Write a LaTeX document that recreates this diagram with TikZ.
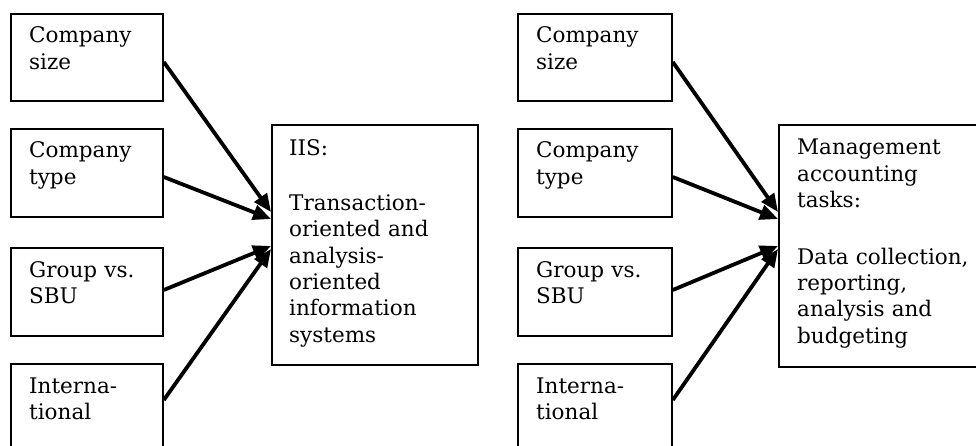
\documentclass[tikz,border=0pt]{standalone}
\usepackage{fontspec}
\setmainfont{DejaVu Serif}
\usetikzlibrary{arrows.meta,calc}
\begin{document}
\begin{tikzpicture}[x=1pt,y=-1pt,
  box/.style={draw=black,line width=1.8pt,rectangle,inner sep=0pt,anchor=north west},
  lbl/.style={anchor=base west,inner sep=0pt,align=left,text width=200pt,
    font={\fontsize{21.5}{26.4}\selectfont}},
  arr/.style={line width=3.8pt,-{Triangle[length=18pt,width=15pt]}}]
\useasboundingbox (0,0) rectangle (976,446);
\clip (0,0) rectangle (976,446);
% left group
\node[box,minimum width=152pt,minimum height=87pt] (a1) at (10,13) {};
\node[box,minimum width=152pt,minimum height=88pt] (a2) at (10,128) {};
\node[box,minimum width=152pt,minimum height=88pt] (a3) at (10,247) {};
\node[box,minimum width=152pt,minimum height=110pt] (a4) at (10,363) {};
\node[box,minimum width=206pt,minimum height=240pt] (ac) at (271,124) {};
\node[lbl] (la1) at ($(a1.north west)+(19,30)$) {Company\\size};
\node[lbl] (la2) at ($(a2.north west)+(19,30)$) {Company\\type};
\node[lbl] (la3) at ($(a3.north west)+(19,30)$) {Group vs.\\SBU};
\node[lbl] (la4) at ($(a4.north west)+(19,30)$) {Interna-\\tional};
\node[lbl] (lac) at ($(ac.north west)+(18,32)$) {IIS:\\[28pt]Transaction-\\oriented and\\analysis-\\oriented\\information\\systems};
\coordinate (at1) at ($(ac.north west)+(0,88)$);
\coordinate (at2) at ($(ac.north west)+(0,95)$);
\coordinate (at3) at ($(ac.north west)+(0,122)$);
\coordinate (at4) at ($(ac.north west)+(0,125)$);
\draw[arr] ($(a1.north east)+(0,49)$) -- (at1);
\draw[arr] ($(a2.north east)+(0,49)$) -- (at2);
\draw[arr] ($(a3.north east)+(0,43)$) -- (at3);
\draw[arr] ($(a4.north east)+(0,37)$) -- (at4);
% right group
\node[box,minimum width=154pt,minimum height=87pt] (b1) at (517,13) {};
\node[box,minimum width=154pt,minimum height=88pt] (b2) at (517,128) {};
\node[box,minimum width=154pt,minimum height=88pt] (b3) at (517,247) {};
\node[box,minimum width=154pt,minimum height=110pt] (b4) at (517,363) {};
\node[box,minimum width=220pt,minimum height=242pt] (bc) at (778,124) {};
\node[lbl] (lb1) at ($(b1.north west)+(19,30)$) {Company\\size};
\node[lbl] (lb2) at ($(b2.north west)+(19,30)$) {Company\\type};
\node[lbl] (lb3) at ($(b3.north west)+(19,30)$) {Group vs.\\SBU};
\node[lbl] (lb4) at ($(b4.north west)+(19,30)$) {Interna-\\tional};
\node[lbl] (lbc) at ($(bc.north west)+(19,31)$) {Management\\accounting\\tasks:\\[30pt]Data collection,\\reporting,\\analysis and\\budgeting};
\coordinate (bt1) at ($(bc.north west)+(0,88)$);
\coordinate (bt2) at ($(bc.north west)+(0,95)$);
\coordinate (bt3) at ($(bc.north west)+(0,122)$);
\coordinate (bt4) at ($(bc.north west)+(0,125)$);
\draw[arr] ($(b1.north east)+(0,49)$) -- (bt1);
\draw[arr] ($(b2.north east)+(0,49)$) -- (bt2);
\draw[arr] ($(b3.north east)+(0,43)$) -- (bt3);
\draw[arr] ($(b4.north east)+(0,37)$) -- (bt4);
\end{tikzpicture}
\end{document}
